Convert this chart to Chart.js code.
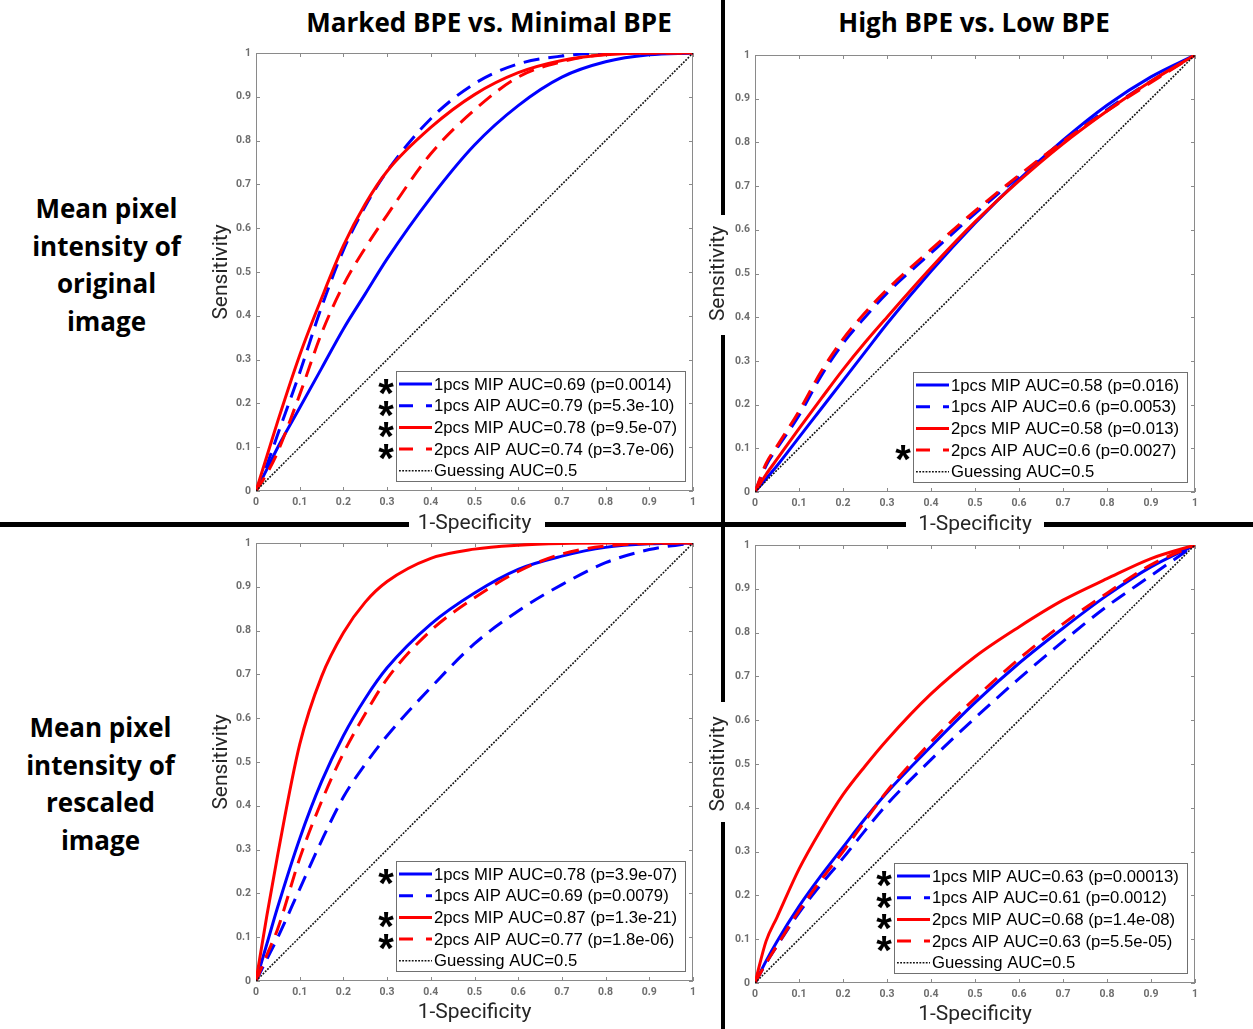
<!DOCTYPE html>
<html>
<head>
<meta charset="utf-8">
<title>ROC curves</title>
<script src="https://cdn.jsdelivr.net/npm/chart.js@4.4.1/dist/chart.umd.min.js"></script>
<style>
  body { margin: 0; background: #fff; }
  #page { position: relative; width: 1253px; height: 1029px; overflow: hidden; background: #fff; }
  .colTitle { position: absolute; top: 4px; width: 500px; font: 700 26px "Open Sans", sans-serif; line-height: 36px; text-align: center; color: #000; white-space: nowrap; }
  .rowLabel { position: absolute; font: 700 26px "Open Sans", sans-serif; line-height: 37.7px; text-align: center; color: #000; }
  .bar { position: absolute; background: #000; }
  canvas { position: absolute; }
</style>
</head>
<body>
<div id="page">
  <div class="colTitle" style="left:239px">Marked BPE vs. Minimal BPE</div>
  <div class="colTitle" style="left:724px">High BPE vs. Low BPE</div>

  <div class="rowLabel" style="left:0;top:190px;width:213px">Mean pixel<br>intensity of<br>original<br>image</div>
  <div class="rowLabel" style="left:0;top:709px;width:201px">Mean pixel<br>intensity of<br>rescaled<br>image</div>

  <!-- dividing lines, with gaps for the axis titles -->
  <div class="bar" style="left:0;top:522px;width:409px;height:5px"></div>
  <div class="bar" style="left:545px;top:522px;width:361px;height:5px"></div>
  <div class="bar" style="left:1044px;top:522px;width:209px;height:5px"></div>
  <div class="bar" style="left:721px;top:0;width:4px;height:215px"></div>
  <div class="bar" style="left:721px;top:335px;width:4px;height:367px"></div>
  <div class="bar" style="left:721px;top:822px;width:4px;height:207px"></div>
</div>

<script>
// shared axis ticks
const tickValues = [0, 0.1, 0.2, 0.3, 0.4, 0.5, 0.6, 0.7, 0.8, 0.9, 1];
const tickLabels = ['0', '0.1', '0.2', '0.3', '0.4', '0.5', '0.6', '0.7', '0.8', '0.9', '1'];

// 1-specificity grid the curves were read at
const fpr = [0, 0.025, 0.05, 0.1, 0.15, 0.2, 0.25, 0.3, 0.4, 0.5, 0.6, 0.7, 0.8, 0.9, 1];
const guessX = [0, 1];
const guessY = [0, 1];

// top left: marked vs minimal, original image
const origMarkedMip1 = [0, 0.05, 0.10, 0.19, 0.28, 0.37, 0.45, 0.53, 0.67, 0.79, 0.88, 0.945, 0.98, 0.996, 1];
const origMarkedAip1 = [0, 0.06, 0.13, 0.27, 0.42, 0.55, 0.65, 0.73, 0.85, 0.93, 0.975, 0.993, 1, 1, 1];
const origMarkedMip2 = [0, 0.08, 0.16, 0.31, 0.44, 0.56, 0.655, 0.73, 0.83, 0.905, 0.955, 0.983, 0.996, 1, 1];
const origMarkedAip2 = [0, 0.04, 0.09, 0.22, 0.36, 0.47, 0.555, 0.63, 0.77, 0.87, 0.945, 0.98, 0.997, 1, 1];
const origMarkedLabels = [
  '1pcs MIP AUC=0.69 (p=0.0014)', '1pcs AIP AUC=0.79 (p=5.3e-10)',
  '2pcs MIP AUC=0.78 (p=9.5e-07)', '2pcs AIP AUC=0.74 (p=3.7e-06)', 'Guessing AUC=0.5'];
const origMarkedStars = [true, true, true, true, false];

// top right: high vs low, original image
const origHighMip1 = [0, 0.03, 0.06, 0.125, 0.19, 0.255, 0.32, 0.385, 0.505, 0.615, 0.715, 0.805, 0.885, 0.95, 1];
const origHighAip1 = [0, 0.06, 0.10, 0.175, 0.265, 0.34, 0.40, 0.455, 0.547, 0.637, 0.722, 0.802, 0.875, 0.94, 1];
const origHighMip2 = [0, 0.04, 0.075, 0.145, 0.213, 0.28, 0.342, 0.40, 0.513, 0.618, 0.712, 0.797, 0.872, 0.94, 1];
const origHighAip2 = [0, 0.065, 0.105, 0.185, 0.275, 0.35, 0.41, 0.463, 0.555, 0.643, 0.725, 0.802, 0.872, 0.937, 1];
const origHighLabels = [
  '1pcs MIP AUC=0.58 (p=0.016)', '1pcs AIP AUC=0.6 (p=0.0053)',
  '2pcs MIP AUC=0.58 (p=0.013)', '2pcs AIP AUC=0.6 (p=0.0027)', 'Guessing AUC=0.5'];
const origHighStars = [false, false, false, true, false];

// bottom left: marked vs minimal, rescaled image
const rescMarkedMip1 = [0, 0.085, 0.17, 0.325, 0.455, 0.56, 0.645, 0.715, 0.815, 0.886, 0.94, 0.97, 0.99, 0.998, 1];
const rescMarkedAip1 = [0, 0.05, 0.10, 0.21, 0.32, 0.42, 0.495, 0.56, 0.67, 0.77, 0.845, 0.905, 0.955, 0.985, 1];
const rescMarkedMip2 = [0, 0.15, 0.29, 0.54, 0.695, 0.795, 0.865, 0.912, 0.965, 0.986, 0.995, 0.999, 1, 1, 1];
const rescMarkedAip2 = [0, 0.06, 0.12, 0.28, 0.41, 0.52, 0.61, 0.69, 0.80, 0.875, 0.935, 0.975, 0.993, 0.999, 1];
const rescMarkedLabels = [
  '1pcs MIP AUC=0.78 (p=3.9e-07)', '1pcs AIP AUC=0.69 (p=0.0079)',
  '2pcs MIP AUC=0.87 (p=1.3e-21)', '2pcs AIP AUC=0.77 (p=1.8e-06)', 'Guessing AUC=0.5'];
const rescMarkedStars = [true, false, true, true, false];

// bottom right: high vs low, rescaled image
const rescHighMip1 = [0, 0.05, 0.095, 0.175, 0.245, 0.31, 0.375, 0.435, 0.54, 0.64, 0.73, 0.81, 0.885, 0.95, 1];
const rescHighAip1 = [0, 0.045, 0.085, 0.16, 0.225, 0.285, 0.348, 0.408, 0.51, 0.605, 0.695, 0.78, 0.86, 0.93, 1];
const rescHighMip2 = [0, 0.095, 0.15, 0.26, 0.35, 0.43, 0.495, 0.555, 0.66, 0.745, 0.813, 0.874, 0.923, 0.969, 1];
const rescHighAip2 = [0, 0.045, 0.085, 0.165, 0.235, 0.30, 0.37, 0.438, 0.55, 0.65, 0.74, 0.82, 0.89, 0.955, 1];
const rescHighLabels = [
  '1pcs MIP AUC=0.63 (p=0.00013)', '1pcs AIP AUC=0.61 (p=0.0012)',
  '2pcs MIP AUC=0.68 (p=1.4e-08)', '2pcs AIP AUC=0.63 (p=5.5e-05)', 'Guessing AUC=0.5'];
const rescHighStars = [true, true, true, true, false];

// line styles: blue solid, blue dashed, red solid, red dashed, guess
const lineColors = ['#0000ff', '#0000ff', '#ff0000', '#ff0000', '#111111'];
const lineDash = [[], [16, 9], [], [16, 9], [1.8, 1.4]];
const legendDash = [[], [14, 13], [], [14, 13], [1.8, 1.4]];
const lineWidths = [3, 3, 3, 3, 1.6];

// axis frame with inward ticks on all four sides
const matlabBox = {
  id: 'matlabBox',
  beforeDatasetsDraw(chart) {
    const { ctx, chartArea: a, scales: { x, y } } = chart;
    ctx.save();
    ctx.strokeStyle = '#8a8a8a';
    ctx.lineWidth = 1;
    ctx.strokeRect(Math.round(a.left) + 0.5, Math.round(a.top) + 0.5,
      Math.round(a.right - a.left) - 1, Math.round(a.bottom - a.top) - 1);
    ctx.beginPath();
    tickValues.forEach(v => {
      const px = Math.round(x.getPixelForValue(v)) + 0.5;
      ctx.moveTo(px, a.bottom); ctx.lineTo(px, a.bottom - 4);
      ctx.moveTo(px, a.top); ctx.lineTo(px, a.top + 4);
      const py = Math.round(y.getPixelForValue(v)) + 0.5;
      ctx.moveTo(a.left, py); ctx.lineTo(a.left + 4, py);
      ctx.moveTo(a.right, py); ctx.lineTo(a.right - 4, py);
    });
    ctx.stroke();
    ctx.restore();
  }
};

// boxed legend in the lower right corner, asterisks outside the box
const legendFont = '16.7px "Liberation Sans", Arial, sans-serif';
const starFont = 'bold 40px "Liberation Sans", Arial, sans-serif';
const rocLegend = {
  id: 'rocLegend',
  afterDatasetsDraw(chart, args, opts) {
    const { ctx, chartArea: a } = chart;
    const sets = chart.data.datasets;
    ctx.save();
    ctx.font = legendFont;
    const textW = Math.max(...sets.map(d => ctx.measureText(d.label).width));
    const rowH = 21.7, sample = 33, padIn = 3, gapTxt = 2, padR = 8;
    const w = Math.round(padIn + sample + gapTxt + textW + padR);
    const h = 110;
    const right = Math.round(a.right) - 8, bottom = Math.round(a.bottom) - 10;
    const left = right - w, top = bottom - h;
    ctx.fillStyle = '#fff';
    ctx.fillRect(left, top, w, h);
    ctx.strokeStyle = '#707070';
    ctx.lineWidth = 1;
    ctx.strokeRect(left + 0.5, top + 0.5, w, h);

    sets.forEach((d, i) => {
      const cy = top + 13 + rowH * i;
      ctx.beginPath();
      ctx.strokeStyle = d.borderColor;
      ctx.lineWidth = d.borderWidth;
      ctx.setLineDash(legendDash[i]);
      ctx.moveTo(left + padIn, cy);
      ctx.lineTo(left + padIn + sample, cy);
      ctx.stroke();
      ctx.setLineDash([]);
      ctx.fillStyle = '#000';
      ctx.font = legendFont;
      ctx.textAlign = 'left';
      ctx.textBaseline = 'middle';
      ctx.fillText(d.label, left + padIn + sample + gapTxt, cy + 1);
      if (opts.stars[i]) {
        // asterisk glyph sits about 0.55em above the baseline
        ctx.font = starFont;
        ctx.textAlign = 'center';
        ctx.textBaseline = 'alphabetic';
        ctx.fillText('*', left - 10, cy + 1 + 22);
      }
    });
    ctx.restore();
  }
};

const padL = 60, padT = 16, padR = 10, padB = 50;
const titleFont = { family: 'Roboto', size: 21 };
const tickFont = { family: 'Roboto', size: 10.5, weight: 'bold' };

function buildPanel(box, curves, labels, stars) {
  const canvas = document.createElement('canvas');
  const cw = box.r - box.l + padL + padR;
  const chh = box.b - box.t + padT + padB;
  const cl = box.l - padL, ct = box.t - padT;
  canvas.width = cw; canvas.height = chh;
  canvas.style.left = cl + 'px';
  canvas.style.top = ct + 'px';
  canvas.style.width = cw + 'px';
  canvas.style.height = chh + 'px';
  document.getElementById('page').appendChild(canvas);

  const halfLine = titleFont.size * 1.2 / 2;
  const yTitlePad = box.yTitleX - cl - halfLine;
  const xTitlePad = (ct + chh) - box.xTitleY - halfLine;

  const all = curves.concat([null]);
  const datasets = all.map((ys, i) => ({
    label: labels[i],
    data: ys ? ys.map((v, k) => ({ x: fpr[k], y: v })) : guessX.map((v, k) => ({ x: v, y: guessY[k] })),
    showLine: true,
    borderColor: lineColors[i],
    borderWidth: lineWidths[i],
    borderDash: lineDash[i],
    pointRadius: 0,
    cubicInterpolationMode: 'monotone',
    fill: false,
    order: 10 - i
  }));

  const axisCommon = {
    type: 'linear', min: 0, max: 1,
    afterBuildTicks: s => { s.ticks = tickValues.map(v => ({ value: v })); },
    ticks: { callback: (v, i) => tickLabels[i], color: '#6e6e6e', font: tickFont, padding: 5, autoSkip: false, maxRotation: 0 },
    grid: { display: false, drawTicks: false },
    border: { display: false }
  };

  return new Chart(canvas, {
    type: 'scatter',
    data: { datasets },
    options: {
      responsive: false,
      animation: false,
      layout: { padding: { top: padT, right: padR, left: 0, bottom: 0 } },
      plugins: {
        legend: { display: false },
        tooltip: { enabled: false },
        rocLegend: { stars }
      },
      scales: {
        x: Object.assign({}, axisCommon, {
          position: 'bottom',
          title: { display: true, text: '1-Specificity', color: '#262626', font: titleFont, padding: { top: 0, bottom: xTitlePad } },
          afterFit: s => { s.height = padB; }
        }),
        y: Object.assign({}, axisCommon, {
          position: 'left',
          title: { display: true, text: 'Sensitivity', color: '#262626', font: titleFont, padding: { top: yTitlePad, bottom: 0 } },
          afterFit: s => { s.width = padL; }
        })
      }
    },
    plugins: [matlabBox, rocLegend]
  });
}

buildPanel({ l: 256, t: 53, r: 693, b: 491, yTitleX: 221.5, xTitleY: 524 },
  [origMarkedMip1, origMarkedAip1, origMarkedMip2, origMarkedAip2], origMarkedLabels, origMarkedStars);
buildPanel({ l: 755, t: 55, r: 1195, b: 492, yTitleX: 719, xTitleY: 525 },
  [origHighMip1, origHighAip1, origHighMip2, origHighAip2], origHighLabels, origHighStars);
buildPanel({ l: 256, t: 543, r: 693, b: 981, yTitleX: 221.5, xTitleY: 1013 },
  [rescMarkedMip1, rescMarkedAip1, rescMarkedMip2, rescMarkedAip2], rescMarkedLabels, rescMarkedStars);
buildPanel({ l: 755, t: 545, r: 1195, b: 983, yTitleX: 719, xTitleY: 1015 },
  [rescHighMip1, rescHighAip1, rescHighMip2, rescHighAip2], rescHighLabels, rescHighStars);
</script>
</body>
</html>
